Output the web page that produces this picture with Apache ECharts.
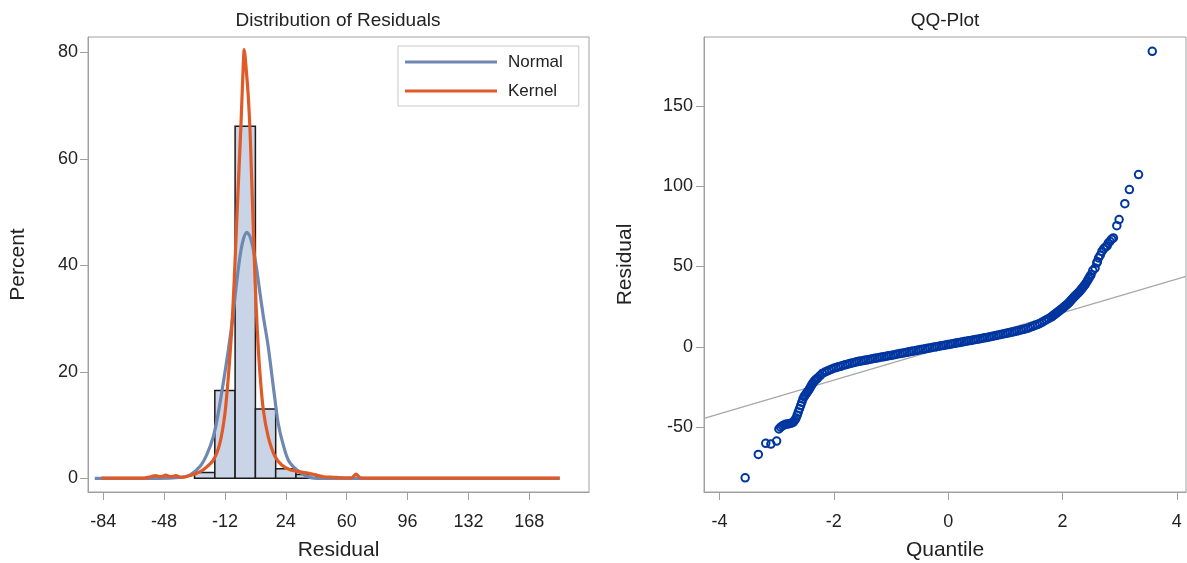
<!DOCTYPE html>
<html><head><meta charset="utf-8">
<script src="https://cdn.jsdelivr.net/npm/echarts@6/dist/echarts.min.js"></script>
<style>html,body{margin:0;padding:0;background:#fff}#c{width:1187px;height:563px}</style>
</head><body><div id="c"></div>
<script>
// ---- Histogram (percent per 12-unit bin) ----
const binCenters = [-24, -12, 0, 12, 24, 36];
const binPercent = [1.1, 16.5, 66.1, 13.0, 1.8, 0.7];
const binWidth = 12;

// ---- Normal density curve (percent scale) ----
const normalX = [-89, -60, -45, -38, -32.7, -26.8, -22.8, -18.9, -16.0, -13.0, -10.0, -7.1, -5.1, -3.1, -1.2, 0.9, 2.8, 4.8, 6.8, 8.7, 10.7, 13.6, 15.6, 17.6, 19.5, 22.2, 25.5, 30.4, 36.4, 42.3, 60, 100, 186];
const normalY = [0, 0, 0.05, 0.2, 0.6, 2.2, 4.4, 7.8, 12.2, 17.9, 24.1, 31.0, 36.7, 41.7, 44.8, 46.2, 45.4, 42.9, 39.2, 34.8, 30.4, 24.7, 19.7, 14.7, 10.3, 6.6, 3.4, 1.6, 0.4, 0, 0, 0, 0];

// ---- Kernel density curve (percent scale) ----
const kernelX = [-85, -60, -56, -53, -50, -47, -44, -41, -38, -35, -32, -29, -24.8, -18.9, -15.0, -12.0, -10.0, -8.0, -6.5, -5.1, -3.7, -2.5, -1.5, -0.6, 0.9, 1.8, 2.8, 3.8, 4.8, 5.8, 7.1, 8.7, 10.7, 13.6, 17.6, 21.6, 26.5, 32.4, 38.3, 46.2, 52, 58, 63, 65.5, 68, 72, 186];
const kernelY = [0.05, 0.05, 0.3, 0.5, 0.3, 0.6, 0.3, 0.5, 0.2, 0.3, 0.6, 0.9, 1.6, 3.4, 6.6, 12.2, 19.1, 27.9, 37.3, 47.9, 58, 66.7, 74.9, 80.5, 75.5, 71.7, 65.5, 56.1, 46.7, 37.3, 27.9, 19.7, 12.8, 7.8, 4.1, 2.5, 1.6, 1.2, 0.9, 0.3, 0.2, 0.1, 0.1, 0.8, 0.1, 0.05, 0.05];

const histTicks = [-84, -48, -12, 24, 60, 96, 132, 168];
const pctTicks = [0, 20, 40, 60, 80];

// ---- QQ plot ----
const qqQuantile = [-3.55, -3.32, -3.19, -3.10, -3.00,
 -2.96, -2.93, -2.90, -2.87, -2.84, -2.81, -2.78, -2.75, -2.72, -2.70, -2.68, -2.66, -2.64, -2.62, -2.60, -2.58, -2.56, -2.54, -2.52, -2.50, -2.48, -2.46, -2.44, -2.42, -2.40, -2.38, -2.36, -2.34, -2.32, -2.30,
 -2.28, -2.24, -2.20, -2.16, -2.12, -2.08, -2.04, -2.00, -1.96, -1.92, -1.88, -1.84, -1.80, -1.76, -1.72, -1.68, -1.64, -1.60, -1.56, -1.52, -1.48, -1.44, -1.40, -1.36, -1.32, -1.28, -1.24, -1.20, -1.16, -1.12, -1.08, -1.04, -1.00, -0.96, -0.92, -0.88, -0.84, -0.80, -0.76, -0.72, -0.68, -0.64, -0.60, -0.56, -0.52, -0.48, -0.44, -0.40, -0.36, -0.32, -0.28, -0.24, -0.20, -0.16, -0.12, -0.08, -0.04, 0.00, 0.04, 0.08, 0.12, 0.16, 0.20, 0.24, 0.28, 0.32, 0.36, 0.40, 0.44, 0.48, 0.52, 0.56, 0.60, 0.64, 0.68, 0.72, 0.76, 0.80, 0.84, 0.88, 0.92, 0.96, 1.00, 1.04, 1.08, 1.12, 1.16, 1.20, 1.24, 1.28, 1.32, 1.36, 1.40, 1.44, 1.48, 1.52, 1.56, 1.60, 1.64, 1.68, 1.72, 1.76, 1.80,
 1.82, 1.84, 1.86, 1.88, 1.90, 1.92, 1.94, 1.96, 1.98, 2.00, 2.02, 2.04, 2.06, 2.08, 2.10, 2.12, 2.14, 2.16, 2.18, 2.20, 2.22, 2.24, 2.26, 2.28, 2.30, 2.32, 2.34, 2.36, 2.38, 2.40, 2.42, 2.44, 2.46, 2.48, 2.50,
 2.53, 2.57, 2.60, 2.61, 2.63, 2.66, 2.69, 2.72, 2.75, 2.78, 2.80, 2.83, 2.86, 2.89, 2.95, 2.99, 3.09, 3.17, 3.33, 3.57];
const qqResidual = [-81.5, -66.9, -60.0, -60.5, -58.6,
 -51.1, -50, -49.2, -48.6, -48.2, -48, -47.8, -47.5, -47.2, -46.5, -45.5, -44.3, -42.5, -40.5, -38.5, -36.5, -34.5, -32.5, -31, -30, -29, -28, -27, -25.8, -24.5, -23.3, -22.2, -21.3, -20.6, -20,
 -19.3, -17.9, -16.5, -15.8, -15.1, -14.5, -13.9, -13.3, -12.9, -12.4, -12.1, -11.6, -11.2, -10.8, -10.4, -10.0, -9.7, -9.3, -9.0, -8.8, -8.5, -8.2, -7.95, -7.7, -7.4, -7.1, -6.9, -6.6, -6.3, -6.1, -5.8, -5.5, -5.3, -5.0, -4.7, -4.4, -4.2, -3.9, -3.6, -3.4, -3.1, -2.8, -2.5, -2.3, -2.0, -1.7, -1.5, -1.2, -0.9, -0.7, -0.4, -0.1, 0.1, 0.4, 0.7, 0.9, 1.2, 1.4, 1.7, 2.0, 2.2, 2.5, 2.7, 3.0, 3.3, 3.5, 3.8, 4.0, 4.3, 4.6, 4.8, 5.1, 5.4, 5.6, 5.9, 6.2, 6.5, 6.8, 7.1, 7.4, 7.7, 8.0, 8.3, 8.6, 8.9, 9.2, 9.5, 9.8, 10.2, 10.6, 10.9, 11.3, 11.7, 12.3, 12.8, 13.4, 13.9, 14.5, 15.3, 16.1, 16.9, 17.7, 18.5,
 19.0, 19.6, 20.1, 20.7, 21.2, 21.8, 22.3, 22.9, 23.4, 24.0, 24.6, 25.2, 25.8, 26.4, 27.0, 27.8, 28.6, 29.4, 30.2, 31.0, 31.7, 32.4, 33.1, 33.8, 34.5, 35.4, 36.3, 37.2, 38.1, 39.0, 40.2, 41.4, 42.6, 43.8, 45.0,
 47.5, 49.0, 52.2, 53.0, 55.3, 57.0, 59.4, 61.0, 62.0, 62.8, 64.5, 65.7, 67.0, 67.8, 75.4, 79.2, 89.1, 97.9, 107.2, 183.9];
const refLineX = [-4.27, 4.16];
const refLineY = [-44.45, 43.9];
const qTicks = [-4, -2, 0, 2, 4];
const resTicks = [-50, 0, 50, 100, 150];

const FONT = '"Liberation Sans", Arial, Helvetica, sans-serif';
const AX = '#a0a0a0';
const TXT = '#222';
const TICK_FS = 18;
const NAME_FS = 21;

function axisCommon(ticks, margin, extra) {
  return Object.assign({
    type: 'value',
    axisLine: { show: true, onZero: false, lineStyle: { color: AX, width: 1 } },
    axisTick: { show: true, inside: false, length: 8, customValues: ticks, lineStyle: { color: AX } },
    axisLabel: { customValues: ticks, fontSize: TICK_FS, color: TXT, fontFamily: FONT, margin: margin },
    splitLine: { show: false },
    nameLocation: 'middle',
    nameTextStyle: { fontSize: NAME_FS, color: TXT, fontFamily: FONT }
  }, extra);
}

const chart = echarts.init(document.getElementById('c'), null, { renderer: 'canvas' });
const zip = (a, b) => a.map((v, i) => [v, b[i]]);

chart.setOption({
  animation: false,
  backgroundColor: '#fff',
  graphic: [
    { type: 'text', x: 338, y: 21, style: { text: 'Distribution of Residuals', align: 'center', verticalAlign: 'middle', fontSize: 19, fontFamily: FONT, fill: TXT } },
    { type: 'text', x: 945, y: 21, style: { text: 'QQ-Plot', align: 'center', verticalAlign: 'middle', fontSize: 19, fontFamily: FONT, fill: TXT } }
  ],
  grid: [
    { left: 88, top: 37, width: 501, height: 455, show: true, borderColor: AX, borderWidth: 1, backgroundColor: 'transparent', containLabel: false, outerBoundsMode: 'none' },
    { left: 704, top: 37, width: 482, height: 455, show: true, borderColor: AX, borderWidth: 1, backgroundColor: 'transparent', containLabel: false, outerBoundsMode: 'none' }
  ],
  xAxis: [
    axisCommon(histTicks, 21, { gridIndex: 0, min: -93, max: 203.3, name: 'Residual', nameGap: 48 }),
    axisCommon(qTicks, 21, { gridIndex: 1, min: -4.27, max: 4.16, name: 'Quantile', nameGap: 48 })
  ],
  yAxis: [
    axisCommon(pctTicks, 10, { gridIndex: 0, min: -2.57, max: 82.87, name: 'Percent', nameGap: 59 }),
    axisCommon(resTicks, 11, { gridIndex: 1, min: -90.3, max: 192.8, name: 'Residual', nameGap: 68 })
  ],
  legend: {
    left: 398, top: 46, orient: 'vertical',
    padding: [6, 16, 5, 7],
    itemWidth: 92, itemHeight: 3, itemGap: 9,
    borderColor: '#c8c8c8', borderWidth: 1,
    textStyle: { fontSize: 17, color: TXT, fontFamily: FONT, lineHeight: 20, padding: [0, 0, 0, 6] },
    data: [{ name: 'Normal', icon: 'rect' }, { name: 'Kernel', icon: 'rect' }]
  },
  series: [
    {
      type: 'custom', name: 'Histogram', xAxisIndex: 0, yAxisIndex: 0, z: 1,
      data: binCenters.map((c, i) => [c - binWidth / 2, c + binWidth / 2, binPercent[i]]),
      encode: { x: [0, 1], y: 2 },
      renderItem: function (params, api) {
        const p0 = api.coord([api.value(0), api.value(2)]);
        const p1 = api.coord([api.value(1), 0]);
        return {
          type: 'rect',
          shape: { x: p0[0], y: p0[1], width: p1[0] - p0[0], height: p1[1] - p0[1] },
          style: { fill: '#c9d5e6', stroke: '#1a1a1a', lineWidth: 1.5 }
        };
      }
    },
    {
      type: 'line', name: 'Normal', xAxisIndex: 0, yAxisIndex: 0, z: 3,
      data: zip(normalX, normalY), showSymbol: false, smooth: 0.3,
      lineStyle: { color: '#6f88b2', width: 3.2 }, itemStyle: { color: '#6f88b2' }
    },
    {
      type: 'line', name: 'Kernel', xAxisIndex: 0, yAxisIndex: 0, z: 4,
      data: zip(kernelX, kernelY), showSymbol: false, smooth: 0.25,
      lineStyle: { color: '#e05a27', width: 3.2 }, itemStyle: { color: '#e05a27' }
    },
    {
      type: 'line', name: 'RefLine', xAxisIndex: 1, yAxisIndex: 1, z: 2,
      data: zip(refLineX, refLineY), showSymbol: false,
      lineStyle: { color: '#a8a8a8', width: 1.3 }
    },
    {
      type: 'scatter', name: 'QQ', xAxisIndex: 1, yAxisIndex: 1, z: 3,
      data: zip(qqQuantile, qqResidual), symbol: 'circle', symbolSize: 7.5,
      itemStyle: { color: 'rgba(0,0,0,0)', borderColor: '#0036a0', borderWidth: 2, opacity: 1 }
    }
  ]
});
</script></body></html>
